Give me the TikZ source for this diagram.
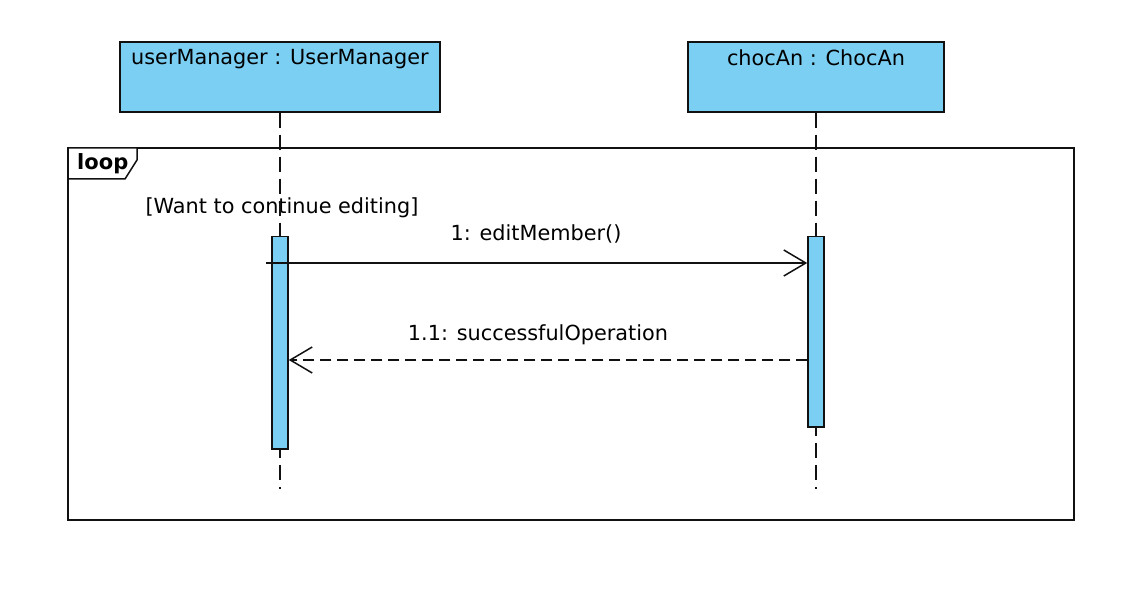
\documentclass[tikz,border=0pt]{standalone}
\usepackage{fontspec}
\setmainfont{DejaVu Sans}
\usetikzlibrary{positioning,arrows.meta,calc}
\definecolor{lifefill}{HTML}{7BCFF3}
\definecolor{lineink}{HTML}{111111}

\tikzset{
  objbox/.style={draw=lineink, fill=lifefill, line width=1.5pt, minimum width=#1, minimum height=70pt, inner sep=0pt},
  objname/.style={anchor=north, inner sep=0pt, font=\fontsize{20.8}{24}\selectfont},
  lifeline/.style={draw=lineink, line width=1.5pt, dash pattern=on 15pt off 7pt},
  activation/.style={draw=lineink, fill=lifefill, line width=1.5pt, minimum width=16pt, minimum height=#1, inner sep=0pt},
  msgtext/.style={inner sep=0pt, font=\fontsize{20.8}{24}\selectfont},
  callmsg/.style={draw=lineink, line width=1.5pt, -{Straight Barb[length=22pt,width=26pt,line width=1.5pt]}},
  replymsg/.style={callmsg, dash pattern=on 11pt off 6pt}
}

\begin{document}
\begin{tikzpicture}[x=1pt,y=-1pt]
\useasboundingbox (0,0) rectangle (1144,604);
\fill[white] (0,0) rectangle (1144,604);

% lifeline heads
\node (um) [objbox=320pt] at (280,77) {};
\node (umname) [objname] at ($(um.north)+(0,8)$) {userManager : UserManager};
\node (ca) [objbox=256pt] at (816,77) {};
\node (caname) [objname] at ($(ca.north)+(0,8)$) {chocAn : ChocAn};

% combined fragment
\draw[draw=lineink, line width=1.7pt] (68,148) rectangle (1074,520);
\draw[draw=lineink, fill=white, line width=1.5pt] (68,148) -- (137,148) -- (137,160) -- (125,179) -- (68,179) -- cycle;
\node (looptag) [anchor=west, inner sep=0pt, font=\fontsize{21}{24}\selectfont\bfseries] at (77,164) {loop};
\node (guard) [msgtext] at (282,208) {[Want to continue editing]};

% lifelines
\coordinate (umend) at (280,489);
\coordinate (caend) at (816,489);
\draw[lifeline] (um.south) -- (umend);
\draw[lifeline] (ca.south) -- (caend);

% activations
\node (umact) [activation=212pt, anchor=north] at (280,236) {};
\node (caact) [activation=190pt, anchor=north] at (816,236) {};

% messages
\coordinate (callstart) at (266,263);
\draw[callmsg] (callstart) -- (callstart -| caact.west);
\node (calltext) [msgtext] at (536,234) {1: editMember()};
\draw[replymsg] (caact.west |- 0,360) -- (umact.east |- 0,360);
\node (replytext) [msgtext] at (538,335) {1.1: successfulOperation};
\end{tikzpicture}
\end{document}
